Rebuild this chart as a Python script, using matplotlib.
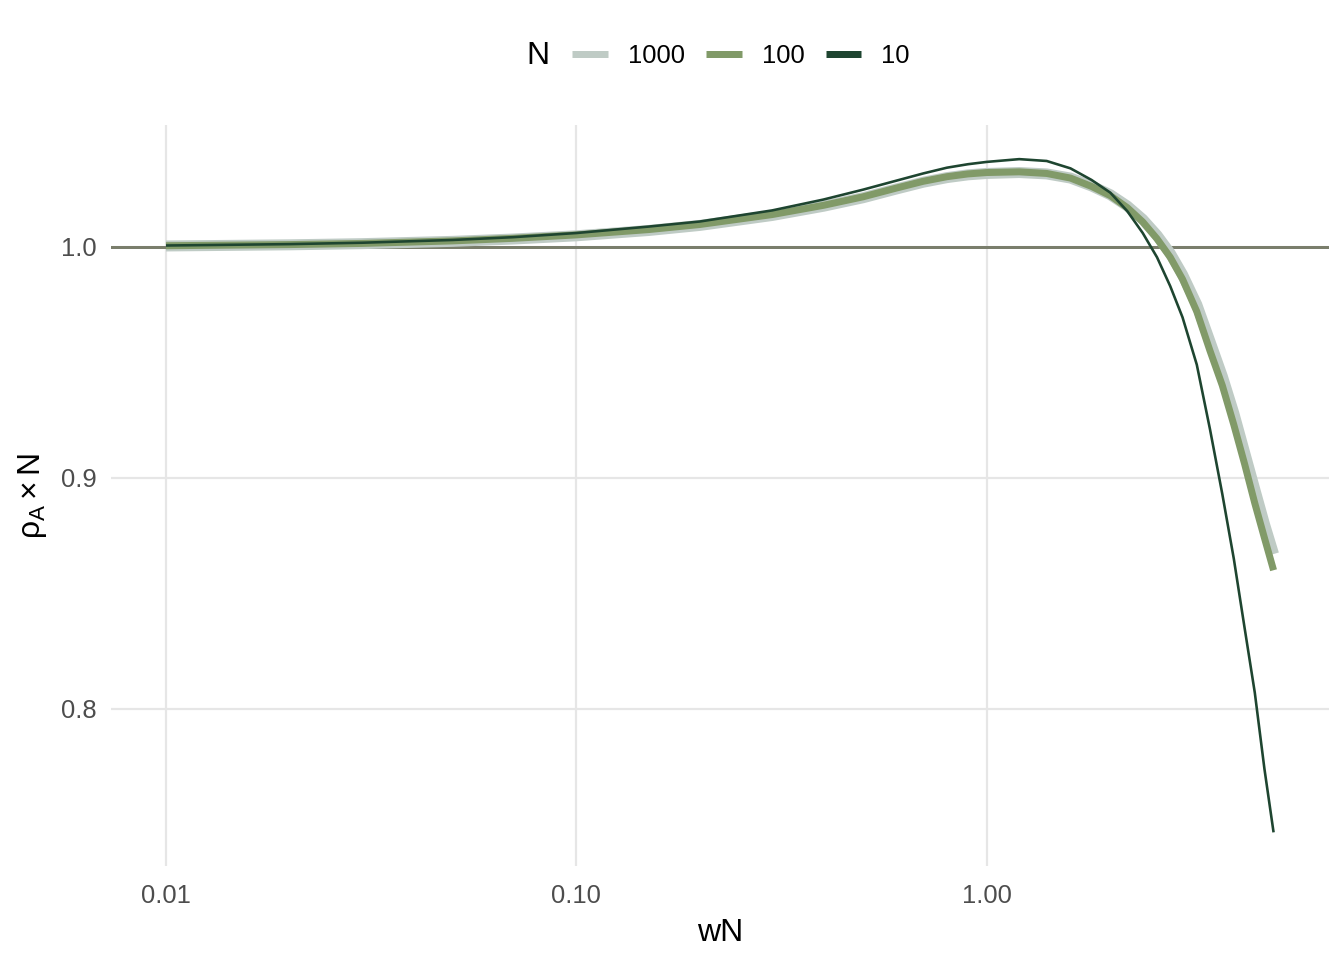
import numpy as np
import matplotlib
matplotlib.use("Agg")
import matplotlib.pyplot as plt
from matplotlib.lines import Line2D

plt.rcParams['font.family'] = ['Liberation Sans', 'DejaVu Sans']
plt.rcParams['mathtext.fontset'] = 'custom'
plt.rcParams['mathtext.rm'] = 'Liberation Sans'
plt.rcParams['mathtext.it'] = 'Liberation Sans'

# wN values (log-spaced reading positions)
wN = [0.01, 0.02, 0.03, 0.05, 0.07, 0.1, 0.15, 0.2, 0.3, 0.4, 0.5, 0.6, 0.7,
      0.8, 0.9, 1.0, 1.2, 1.4, 1.6, 1.8, 2.0, 2.2, 2.4, 2.6, 2.8, 3.0, 3.25,
      3.5, 3.75, 4.0, 4.25, 4.5, 4.75, 5.0]

rho_1000 = [1.0004, 1.0009, 1.0014, 1.0024, 1.0034, 1.0048, 1.0071, 1.0093,
            1.0136, 1.0176, 1.0213, 1.0250, 1.0280, 1.0300, 1.0312, 1.0318,
            1.0322, 1.0316, 1.0298, 1.0264, 1.0226, 1.0177, 1.0119, 1.0050,
            0.9972, 0.9880, 0.9750, 0.9590, 0.9440, 0.9280, 0.9110, 0.8950,
            0.8800, 0.8670]

rho_100 = [1.0005, 1.0010, 1.0015, 1.0026, 1.0037, 1.0052, 1.0075, 1.0097,
           1.0140, 1.0180, 1.0217, 1.0254, 1.0284, 1.0304, 1.0316, 1.0322,
           1.0325, 1.0318, 1.0298, 1.0262, 1.0222, 1.0170, 1.0108, 1.0035,
           0.9955, 0.9860, 0.9720, 0.9550, 0.9400, 0.9230, 0.9060, 0.8890,
           0.8740, 0.8600]

rho_10 = [1.0006, 1.0012, 1.0018, 1.0030, 1.0042, 1.0060, 1.0088, 1.0110,
          1.0158, 1.0205, 1.0248, 1.0286, 1.0318, 1.0343, 1.0358, 1.0368,
          1.0380, 1.0372, 1.0340, 1.0290, 1.0235, 1.0155, 1.0060, 0.9955,
          0.9830, 0.9695, 0.9490, 0.9210, 0.8930, 0.8650, 0.8350, 0.8070,
          0.7740, 0.7465]

labels = ['1000', '100', '10']
colors = ['#BFCBC5', '#819A68', '#1E4530']
widths = [5.5, 3.5, 1.3]
series = [rho_1000, rho_100, rho_10]

fig = plt.figure(figsize=(1344 / 144, 960 / 144), dpi=144)
ax = fig.add_axes([0.0823, 0.0979, 0.9065, 0.7714])

ax.axhline(1.0, color='#7A7E6C', lw=1.5, zorder=1)
for y, c, lw in zip(series, colors, widths):
    ax.plot(wN, y, color=c, lw=lw, solid_capstyle='butt', zorder=2)

ax.set_xscale('log')
lx0, lx1 = np.log10(min(wN)), np.log10(max(wN))
pad = 0.05 * (lx1 - lx0)
ax.set_xlim(10 ** (lx0 - pad), 10 ** (lx1 + pad))
allv = rho_1000 + rho_100 + rho_10
y0, y1 = min(allv), max(allv)
ax.set_ylim(y0 - 0.05 * (y1 - y0), y1 + 0.05 * (y1 - y0))

ax.set_xticks([0.01, 0.1, 1.0])
ax.set_xticklabels(['0.01', '0.10', '1.00'])
ax.xaxis.set_minor_locator(matplotlib.ticker.NullLocator())
ax.set_yticks([0.8, 0.9, 1.0])
ax.set_yticklabels(['0.8', '0.9', '1.0'])

ax.grid(True, color='#E6E6E6', lw=1.1, zorder=0)
ax.set_axisbelow(True)
for s in ax.spines.values():
    s.set_visible(False)
ax.tick_params(length=0, labelsize=12.8, labelcolor='#4D4D4D')
ax.tick_params(axis='x', pad=9)
ax.tick_params(axis='y', pad=7)

ax.set_xlabel('wN', fontsize=16, labelpad=5)
ax.set_ylabel(r'$\rho_{A} \times N$', fontsize=16, labelpad=6)

handles = [Line2D([], [], color=c, lw=3.5, solid_capstyle='butt') for c in colors]
fig.legend(handles, labels, loc='center', bbox_to_anchor=(741 / 1344, 1 - 56 / 960),
           ncol=3, frameon=False, fontsize=12.8, handlelength=1.4,
           handletextpad=0.78, columnspacing=0.82)
fig.text(538 / 1344, 1 - 56 / 960, 'N', fontsize=16, ha='center', va='center')

fig.savefig('out.png', dpi=144)
